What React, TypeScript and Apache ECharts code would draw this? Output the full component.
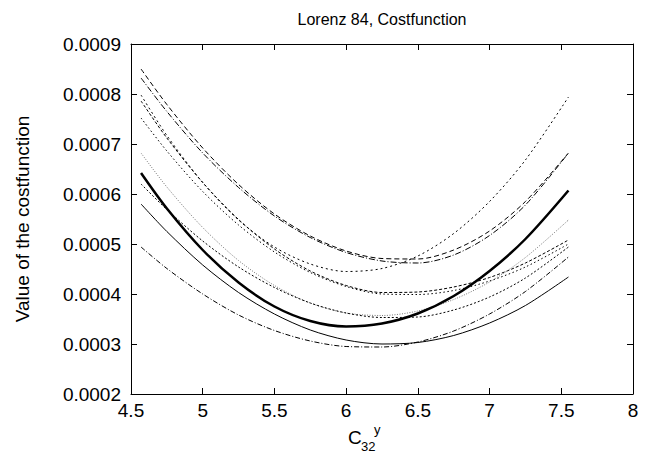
import React, { useEffect, useRef } from "react";
import * as echarts from "echarts";

const xs = [4.57, 4.75, 5.0, 5.25, 5.5, 5.75, 6.0, 6.25, 6.5, 6.75, 7.0, 7.25, 7.55];

const curveA = [850, 779, 692, 619, 560, 516, 486, 471, 470, 488, 526, 585, 682];
const curveB = [832, 765, 682, 613, 556, 513, 483, 466, 462, 478, 517, 578, 682];
const curveC = [798, 717, 623, 548, 494, 460, 445, 451, 476, 521, 585, 668, 794];
const curveD = [786, 712, 623, 549, 490, 446, 417, 403, 404, 414, 433, 462, 508];
const curveE = [752, 686, 605, 538, 484, 443, 415, 400, 399, 407, 426, 454, 500];
const curveF = [682, 614, 533, 467, 417, 382, 362, 357, 366, 389, 424, 473, 548];
const curveThick = [642, 571, 488, 423, 375, 346, 335, 341, 361, 396, 446, 510, 607];
const curveG = [620, 569, 506, 454, 413, 382, 362, 353, 354, 368, 394, 432, 494];
const curveThin = [580, 525, 458, 403, 360, 328, 308, 300, 303, 317, 342, 377, 434];
const curveH = [494, 451, 400, 358, 327, 306, 295, 294, 304, 326, 360, 405, 474];
// values above are in units of 1e-6
const UNIT = 1e-6;

const xTicks = [4.5, 5, 5.5, 6, 6.5, 7, 7.5, 8];
const yTicks = [0.0002, 0.0003, 0.0004, 0.0005, 0.0006, 0.0007, 0.0008, 0.0009];

const titleText = "Lorenz 84, Costfunction";
const yName = "Value of the costfunction";

const FONT = "'Liberation Sans', Arial, Helvetica, sans-serif";

const curves: { data: number[]; color: string; width: number; type: any }[] = [
  { data: curveA, color: "#000", width: 1, type: [5, 3] },
  { data: curveB, color: "#000", width: 1, type: [6, 2, 1, 2] },
  { data: curveC, color: "#000", width: 1, type: [2, 3] },
  { data: curveD, color: "#000", width: 1, type: [3, 2] },
  { data: curveE, color: "#000", width: 1, type: [1.5, 2.5] },
  { data: curveF, color: "#777", width: 1, type: [1, 1.5] },
  { data: curveThick, color: "#000", width: 2.5, type: "solid" },
  { data: curveG, color: "#000", width: 1, type: [2, 2] },
  { data: curveThin, color: "#000", width: 1, type: "solid" },
  { data: curveH, color: "#000", width: 1, type: [5, 2, 1, 2] },
];

export default function App() {
  const ref = useRef<HTMLDivElement>(null);
  useEffect(() => {
    if (!ref.current) return;
    const chart = echarts.init(ref.current, undefined, { renderer: "svg" });
    const axisCommon = {
      type: "value" as const,
      axisLine: { show: true, lineStyle: { color: "#000", width: 1 } },
      axisTick: { show: true, inside: true, length: 6, lineStyle: { color: "#000" } },
      splitLine: { show: false },
    };
    const xMin = xTicks[0];
    const xMax = xTicks[xTicks.length - 1];
    const yMin = yTicks[0];
    const yMax = yTicks[yTicks.length - 1];
    chart.setOption({
      animation: false,
      backgroundColor: "#fff",
      grid: { left: 131, right: 15, top: 44, bottom: 60 },
      xAxis: [
        {
          ...axisCommon,
          position: "bottom",
          min: xMin,
          max: xMax,
          interval: 0.5,
          axisLabel: {
            color: "#000",
            fontSize: 19,
            fontFamily: FONT,
            margin: 7,
            formatter: (v: number) => String(v),
          },
        },
        {
          ...axisCommon,
          position: "top",
          min: xMin,
          max: xMax,
          interval: 0.5,
          axisLabel: { show: false },
        },
      ],
      yAxis: [
        {
          ...axisCommon,
          position: "left",
          min: yMin,
          max: yMax,
          interval: 0.0001,
          axisLabel: {
            color: "#000",
            fontSize: 19,
            fontFamily: FONT,
            margin: 10,
            formatter: (v: number) => v.toFixed(4),
          },
        },
        {
          ...axisCommon,
          position: "right",
          min: yMin,
          max: yMax,
          interval: 0.0001,
          axisLabel: { show: false },
        },
      ],
      graphic: [
        {
          type: "text",
          x: 382,
          y: 19,
          style: {
            text: titleText,
            fontSize: 16,
            fontFamily: FONT,
            fill: "#000",
            textAlign: "center",
            textVerticalAlign: "middle",
          },
        },
        {
          type: "text",
          x: 22,
          y: 219,
          rotation: Math.PI / 2,
          style: {
            text: yName,
            fontSize: 19,
            fontFamily: FONT,
            fill: "#000",
            textAlign: "center",
            textVerticalAlign: "middle",
          },
        },
        {
          type: "text",
          x: 348,
          y: 447,
          style: { text: "C", fontSize: 19, fontFamily: FONT, fill: "#000", textAlign: "left", textVerticalAlign: "bottom" },
        },
        {
          type: "text",
          x: 361,
          y: 453,
          style: { text: "32", fontSize: 13, fontFamily: FONT, fill: "#000", textAlign: "left", textVerticalAlign: "bottom" },
        },
        {
          type: "text",
          x: 374,
          y: 436,
          style: { text: "y", fontSize: 13, fontFamily: FONT, fill: "#000", textAlign: "left", textVerticalAlign: "bottom" },
        },
      ],
      series: curves.map((c, i) => ({
        type: "line",
        name: "c" + i,
        xAxisIndex: 0,
        yAxisIndex: 0,
        data: xs.map((x, j) => [x, c.data[j] * UNIT]),
        showSymbol: false,
        symbol: "none",
        smooth: 0.3,
        lineStyle: { color: c.color, width: c.width, type: c.type },
        z: c.width > 2 ? 5 : 2,
      })),
    });
    return () => chart.dispose();
  }, []);
  return (
    <div
      ref={ref}
      style={{ position: "absolute", left: 0, top: 0, width: 648, height: 454 }}
    />
  );
}
